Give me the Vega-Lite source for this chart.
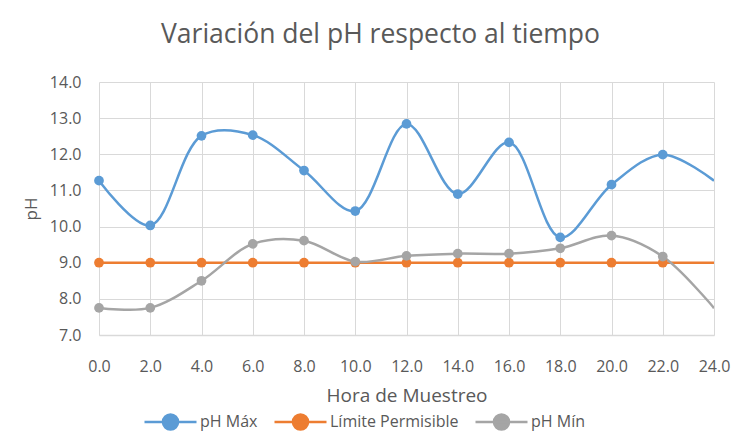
{
  "$schema": "https://vega.github.io/schema/vega-lite/v6.json",
  "width": 615,
  "height": 253,
  "autosize": {"type": "none"},
  "padding": {"left": 99, "top": 82, "right": 26, "bottom": 104},
  "background": "white",
  "title": {
    "text": "Variación del pH respecto al tiempo",
    "font": "Open Sans",
    "fontSize": 26.5,
    "fontWeight": "normal",
    "color": "#595959",
    "anchor": "middle",
    "dx": -26,
    "offset": 26
  },
  "config": {
    "view": {"stroke": null},
    "font": "Open Sans"
  },
  "data": {
    "values": [
      {"hora": 0, "serie": "pH Máx", "ph": 11.27},
      {"hora": 2, "serie": "pH Máx", "ph": 10.03},
      {"hora": 4, "serie": "pH Máx", "ph": 12.51},
      {"hora": 6, "serie": "pH Máx", "ph": 12.53},
      {"hora": 8, "serie": "pH Máx", "ph": 11.55},
      {"hora": 10, "serie": "pH Máx", "ph": 10.43},
      {"hora": 12, "serie": "pH Máx", "ph": 12.84},
      {"hora": 14, "serie": "pH Máx", "ph": 10.9},
      {"hora": 16, "serie": "pH Máx", "ph": 12.33},
      {"hora": 18, "serie": "pH Máx", "ph": 9.7},
      {"hora": 20, "serie": "pH Máx", "ph": 11.16},
      {"hora": 22, "serie": "pH Máx", "ph": 11.99},
      {"hora": 24, "serie": "pH Máx", "ph": 11.27},
      {"hora": 0, "serie": "Límite Permisible", "ph": 9.0},
      {"hora": 2, "serie": "Límite Permisible", "ph": 9.0},
      {"hora": 4, "serie": "Límite Permisible", "ph": 9.0},
      {"hora": 6, "serie": "Límite Permisible", "ph": 9.0},
      {"hora": 8, "serie": "Límite Permisible", "ph": 9.0},
      {"hora": 10, "serie": "Límite Permisible", "ph": 9.0},
      {"hora": 12, "serie": "Límite Permisible", "ph": 9.0},
      {"hora": 14, "serie": "Límite Permisible", "ph": 9.0},
      {"hora": 16, "serie": "Límite Permisible", "ph": 9.0},
      {"hora": 18, "serie": "Límite Permisible", "ph": 9.0},
      {"hora": 20, "serie": "Límite Permisible", "ph": 9.0},
      {"hora": 22, "serie": "Límite Permisible", "ph": 9.0},
      {"hora": 24, "serie": "Límite Permisible", "ph": 9.0},
      {"hora": 0, "serie": "pH Mín", "ph": 7.75},
      {"hora": 2, "serie": "pH Mín", "ph": 7.75},
      {"hora": 4, "serie": "pH Mín", "ph": 8.5},
      {"hora": 6, "serie": "pH Mín", "ph": 9.52},
      {"hora": 8, "serie": "pH Mín", "ph": 9.61},
      {"hora": 10, "serie": "pH Mín", "ph": 9.03},
      {"hora": 12, "serie": "pH Mín", "ph": 9.19},
      {"hora": 14, "serie": "pH Mín", "ph": 9.25},
      {"hora": 16, "serie": "pH Mín", "ph": 9.25},
      {"hora": 18, "serie": "pH Mín", "ph": 9.4},
      {"hora": 20, "serie": "pH Mín", "ph": 9.75},
      {"hora": 22, "serie": "pH Mín", "ph": 9.17},
      {"hora": 24, "serie": "pH Mín", "ph": 7.74}
    ]
  },
  "encoding": {
    "x": {
      "field": "hora",
      "type": "quantitative",
      "scale": {"domain": [0, 24], "nice": false, "zero": false},
      "axis": {
        "title": "Hora de Muestreo",
        "values": [0, 2, 4, 6, 8, 10, 12, 14, 16, 18, 20, 22, 24],
        "format": ".1f",
        "labelFontSize": 16,
        "labelColor": "#595959",
        "labelPadding": 23,
        "labelFlush": false,
        "ticks": false,
        "tickSize": 0,
        "domain": true,
        "domainColor": "#d9d9d9",
        "domainWidth": 1.5,
        "gridColor": "#d9d9d9",
        "gridWidth": 1,
        "titleFontSize": 19,
        "titleFontWeight": "normal",
        "titleColor": "#595959",
        "titlePadding": 12
      }
    },
    "y": {
      "field": "ph",
      "type": "quantitative",
      "scale": {"domain": [7, 14], "nice": false, "zero": false},
      "axis": {
        "title": "pH",
        "values": [7, 8, 9, 10, 11, 12, 13, 14],
        "format": ".1f",
        "labelFontSize": 16,
        "labelColor": "#595959",
        "labelPadding": 18,
        "ticks": false,
        "tickSize": 0,
        "domain": false,
        "gridColor": "#d9d9d9",
        "gridWidth": 1,
        "titleFontSize": 17,
        "titleFontWeight": "normal",
        "titleColor": "#595959",
        "titlePadding": 9
      }
    },
    "color": {
      "field": "serie",
      "type": "nominal",
      "scale": {
        "domain": ["pH Máx", "Límite Permisible", "pH Mín"],
        "range": ["#5B9BD5", "#ED7D31", "#A5A5A5"]
      },
      "legend": {
        "title": null,
        "orient": "none",
        "direction": "horizontal",
        "legendX": 44,
        "legendY": 312,
        "symbolType": "M-1,0L1,0M-0.29,0A0.29,0.29,0,1,0,0.29,0A0.29,0.29,0,1,0,-0.29,0Z",
        "symbolSize": 2704,
        "symbolStrokeWidth": 2.5,
        "labelFontSize": 16,
        "labelColor": "#595959",
        "labelOffset": 2,
        "columnPadding": 11
      }
    }
  },
  "layer": [
    {
      "mark": {"type": "line", "interpolate": "catmull-rom", "strokeWidth": 2.5, "clip": true}
    },
    {
      "transform": [{"filter": "datum.hora < 24"}],
      "mark": {"type": "point", "filled": true, "opacity": 1, "size": 95}
    }
  ]
}
